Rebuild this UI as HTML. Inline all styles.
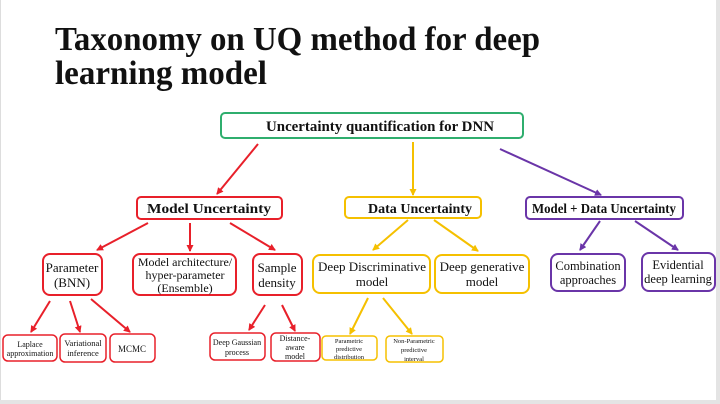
<!DOCTYPE html>
<html><head><meta charset="utf-8"><style>
html,body{margin:0;padding:0;background:#fff;}
svg{display:block;}
text{font-family:"Liberation Serif",serif;fill:#111;}
</style></head><body>
<svg width="720" height="404" viewBox="0 0 720 404" xmlns="http://www.w3.org/2000/svg">
<defs>
<marker id="ar" markerWidth="7" markerHeight="7" refX="6" refY="3.5" orient="auto" markerUnits="userSpaceOnUse"><path d="M0,0 L7,3.5 L0,7 z" fill="#e8202a"/></marker>
<marker id="ay" markerWidth="7" markerHeight="7" refX="6" refY="3.5" orient="auto" markerUnits="userSpaceOnUse"><path d="M0,0 L7,3.5 L0,7 z" fill="#f5c000"/></marker>
<marker id="ap" markerWidth="7" markerHeight="7" refX="6" refY="3.5" orient="auto" markerUnits="userSpaceOnUse"><path d="M0,0 L7,3.5 L0,7 z" fill="#6a35a8"/></marker>
</defs>
<rect x="0" y="0" width="720" height="404" fill="#fff"/>
<rect x="0" y="400" width="720" height="4" fill="#e4e4e4"/>
<rect x="716" y="0" width="4" height="404" fill="#e4e4e4"/>
<rect x="0" y="0" width="1" height="400" fill="#ddd"/>

<text x="55" y="50" font-size="34" font-weight="bold" textLength="485" lengthAdjust="spacingAndGlyphs">Taxonomy on UQ method for deep</text>
<text x="55" y="84" font-size="34" font-weight="bold" textLength="212" lengthAdjust="spacingAndGlyphs">learning model</text>

<g fill="none" stroke-width="2">
<rect x="221" y="113" width="302" height="25" rx="4" stroke="#2fae6e"/>
<rect x="137" y="197" width="145" height="22" rx="4" stroke="#e8202a"/>
<rect x="345" y="197" width="136" height="21" rx="4" stroke="#f5c000"/>
<rect x="526" y="197" width="157" height="22" rx="4" stroke="#6a35a8"/>
<rect x="43" y="254" width="59" height="41" rx="7" stroke="#e8202a"/>
<rect x="133" y="254" width="103" height="41" rx="7" stroke="#e8202a"/>
<rect x="253" y="254" width="49" height="41" rx="7" stroke="#e8202a"/>
<rect x="313" y="255" width="117" height="38" rx="7" stroke="#f5c000"/>
<rect x="435" y="255" width="94" height="38" rx="7" stroke="#f5c000"/>
<rect x="551" y="254" width="74" height="37" rx="7" stroke="#6a35a8"/>
<rect x="642" y="253" width="73" height="38" rx="7" stroke="#6a35a8"/>
<g stroke-width="1.5">
<rect x="3" y="335" width="54" height="26" rx="5" stroke="#e8202a"/>
<rect x="60" y="334" width="46" height="28" rx="5" stroke="#e8202a"/>
<rect x="110" y="334" width="45" height="28" rx="5" stroke="#e8202a"/>
<rect x="210" y="333" width="55" height="27" rx="5" stroke="#e8202a"/>
<rect x="271" y="333" width="49" height="28" rx="5" stroke="#e8202a"/>
<rect x="322" y="336" width="55" height="24" rx="4" stroke="#f5c000"/>
<rect x="386" y="336" width="57" height="26" rx="4" stroke="#f5c000"/>
</g>
</g>

<g stroke-width="2" fill="none">
<line x1="258" y1="144" x2="217" y2="194" stroke="#e8202a" marker-end="url(#ar)"/>
<line x1="413" y1="142" x2="413" y2="195" stroke="#f5c000" marker-end="url(#ay)"/>
<line x1="500" y1="149" x2="601" y2="195" stroke="#6a35a8" marker-end="url(#ap)"/>
<line x1="148" y1="223" x2="97" y2="250" stroke="#e8202a" marker-end="url(#ar)"/>
<line x1="190" y1="223" x2="190" y2="251" stroke="#e8202a" marker-end="url(#ar)"/>
<line x1="230" y1="223" x2="275" y2="250" stroke="#e8202a" marker-end="url(#ar)"/>
<line x1="408" y1="220" x2="373" y2="250" stroke="#f5c000" marker-end="url(#ay)"/>
<line x1="434" y1="220" x2="478" y2="251" stroke="#f5c000" marker-end="url(#ay)"/>
<line x1="600" y1="221" x2="580" y2="250" stroke="#6a35a8" marker-end="url(#ap)"/>
<line x1="635" y1="221" x2="678" y2="250" stroke="#6a35a8" marker-end="url(#ap)"/>
<line x1="50" y1="301" x2="31" y2="332" stroke="#e8202a" marker-end="url(#ar)"/>
<line x1="70" y1="301" x2="80" y2="332" stroke="#e8202a" marker-end="url(#ar)"/>
<line x1="91" y1="299" x2="130" y2="332" stroke="#e8202a" marker-end="url(#ar)"/>
<line x1="265" y1="305" x2="249" y2="330" stroke="#e8202a" marker-end="url(#ar)"/>
<line x1="282" y1="305" x2="295" y2="331" stroke="#e8202a" marker-end="url(#ar)"/>
<line x1="368" y1="298" x2="350" y2="334" stroke="#f5c000" marker-end="url(#ay)"/>
<line x1="383" y1="298" x2="412" y2="334" stroke="#f5c000" marker-end="url(#ay)"/>
</g>

<g text-anchor="middle">
<text x="380" y="131" font-size="15" font-weight="bold" textLength="228" lengthAdjust="spacingAndGlyphs">Uncertainty quantification for DNN</text>
<text x="209" y="213" font-size="14" font-weight="bold" textLength="124" lengthAdjust="spacingAndGlyphs">Model Uncertainty</text>
<text x="420" y="213" font-size="14" font-weight="bold" textLength="104" lengthAdjust="spacingAndGlyphs">Data Uncertainty</text>
<text x="604" y="213" font-size="14" font-weight="bold" textLength="144" lengthAdjust="spacingAndGlyphs">Model + Data Uncertainty</text>
<text x="72" y="272" font-size="13">Parameter</text>
<text x="72" y="287" font-size="13">(BNN)</text>
<text x="185" y="266" font-size="12">Model architecture/</text>
<text x="185" y="279" font-size="12">hyper-parameter</text>
<text x="185" y="292" font-size="12">(Ensemble)</text>
<text x="277" y="272" font-size="13">Sample</text>
<text x="277" y="287" font-size="13">density</text>
<text x="372" y="271" font-size="13">Deep Discriminative</text>
<text x="372" y="286" font-size="13">model</text>
<text x="482" y="271" font-size="13">Deep generative</text>
<text x="482" y="286" font-size="13">model</text>
<text x="588" y="270" font-size="12.5">Combination</text>
<text x="588" y="284" font-size="12.5">approaches</text>
<text x="678" y="269" font-size="12.5">Evidential</text>
<text x="678" y="283" font-size="12.5">deep learning</text>
<text x="30" y="347" font-size="8">Laplace</text>
<text x="30" y="356" font-size="8">approximation</text>
<text x="83" y="346" font-size="8.5">Variational</text>
<text x="83" y="356" font-size="8.5">inference</text>
<text x="132" y="352" font-size="9">MCMC</text>
<text x="237" y="345" font-size="8">Deep Gaussian</text>
<text x="237" y="355" font-size="8">process</text>
<text x="295" y="341" font-size="8">Distance-</text>
<text x="295" y="350" font-size="8">aware</text>
<text x="295" y="359" font-size="8">model</text>
<text x="349" y="343" font-size="6.5">Parametric</text>
<text x="349" y="351" font-size="6.5">predictive</text>
<text x="349" y="359" font-size="6.5">distribution</text>
<text x="414" y="343" font-size="6.5">Non-Parametric</text>
<text x="414" y="352" font-size="6.5">predictive</text>
<text x="414" y="361" font-size="6.5">interval</text>
</g>
</svg>
</body></html>
